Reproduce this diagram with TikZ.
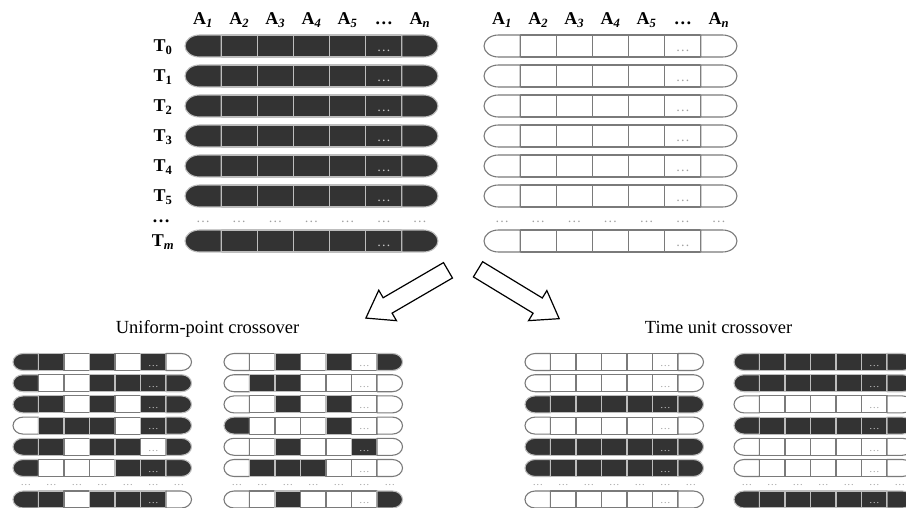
\documentclass[tikz,border=0pt]{standalone}
\usepackage{fontspec}
\setmainfont{Liberation Serif}
\usetikzlibrary{shapes.arrows}
\definecolor{genedark}{HTML}{333333}
\definecolor{lineon}{HTML}{BDBDBD}
\definecolor{lineoff}{HTML}{7A7A7A}
\definecolor{dotlight}{HTML}{C8C8C8}
\definecolor{dotgray}{HTML}{A0A0A0}
\newcommand\labfont{\fontsize{18}{20}\selectfont\bfseries}
\newcommand\titlefont{\fontsize{18.5}{21}\selectfont}
\def\allon{1,1,1,1,1,1,1}
\def\alloff{0,0,0,0,0,0,0}
\tikzset{
  cell w/.store in=\cellw, cell w=36.14,
  cell h/.store in=\cellh, cell h=22,
  dot size/.store in=\dotsz, dot size=14,
  gene/.style={line width=1.1pt, line join=round},
  celldots/.style={inner sep=0pt, font=\fontsize{\dotsz}{\dotsz}\selectfont},
  gapdots/.style={celldots, text=dotgray},
  lab/.style={inner sep=0pt, anchor=base, font=\labfont},
  title/.style={inner sep=0pt, anchor=base, font=\titlefont},
  bigarrow/.style={%
    single arrow, draw, fill=white, line width=1.2pt,
    minimum height=95pt, inner xsep=0pt, inner ysep=8.3pt,
    single arrow head extend=8.7pt, single arrow tip angle=70,
    anchor=tail,
  },
  pics/chrom/.style={code={%
    \edef\genes{#1}%
    \pgfmathsetmacro\capx{0.4*\cellw}%
    \pgfmathsetmacro\capy{0.5*\cellh}%
    \foreach \g [count=\i] in \genes {%
      \ifnum\g=1 \def\cellfill{genedark}\def\cellline{lineon}\def\dotcol{dotlight}%
      \else \def\cellfill{white}\def\cellline{lineoff}\def\dotcol{dotgray}\fi
      \pgfmathsetmacro\xa{(\i-1)*\cellw}%
      \pgfmathsetmacro\xb{\i*\cellw}%
      \ifnum\i=1
        \draw[gene, draw=\cellline, fill=\cellfill] (\xb,0) -- (\capx,0)
          arc[start angle=270, end angle=90, x radius=\capx pt, y radius=\capy pt]
          -- (\xb,\cellh) -- cycle;
      \else\ifnum\i=7
        \pgfmathsetmacro\xc{\xb-\capx}%
        \draw[gene, draw=\cellline, fill=\cellfill] (\xa,0) -- (\xc,0)
          arc[start angle=-90, end angle=90, x radius=\capx pt, y radius=\capy pt]
          -- (\xa,\cellh) -- cycle;
      \else
        \draw[gene, draw=\cellline, fill=\cellfill] (\xa,0) rectangle (\xb,\cellh);
      \fi\fi
      \ifnum\i=6
        \node[celldots, text=\dotcol] (-dots) at ({\xa+0.5*\cellw},{0.27*\cellh}) {\dots};
      \fi
    }
  }},
  pics/gaps/.style={code={%
    \foreach \i in {1,...,7}
      \node[gapdots] (-g\i) at ({(\i-0.5)*\cellw},0) {\dots};
  }},
}

\begin{document}
\begin{tikzpicture}[x=1pt,y=1pt]
\useasboundingbox (0,0) rectangle (906,507);
% attribute headers
\foreach \s in {1,...,5} {
  \node[lab] (al\s) at ({185+(\s-0.5)*36.14},482) {A\textsubscript{\itshape\s}};
  \node[lab] (ar\s) at ({484+(\s-0.5)*36.14},482) {A\textsubscript{\itshape\s}};
}
\node[lab] (al6) at ({185+5.5*36.14},482) {\dots};
\node[lab] (ar6) at ({484+5.5*36.14},482) {\dots};
\node[lab] (al7) at ({185+6.5*36.14},482) {A\textsubscript{\itshape n}};
\node[lab] (ar7) at ({484+6.5*36.14},482) {A\textsubscript{\itshape n}};
% time units
\foreach \k in {0,...,5}
  \node[lab] (t\k) at (163,{455.5-30*\k}) {T\textsubscript{\k}};
\node[lab, anchor=center] (tdots) at (161,285.3) {\dots};
\node[lab] (tm) at (163,260.5) {T\textsubscript{\itshape m}};
% parents
\foreach \k in {0,...,5} {
  \pic (L\k) at (185,{450-30*\k}) {chrom=\allon};
  \pic (R\k) at (484,{450-30*\k}) {chrom=\alloff};
}
\pic (Lg) at (185,285.3) {gaps};
\pic (Rg) at (484,285.3) {gaps};
\pic (Lm) at (185,255) {chrom=\allon};
\pic (Rm) at (484,255) {chrom=\alloff};
% arrows and titles
\node[bigarrow, rotate=210.2] (arrowL) at (448.5,237) {};
\node[bigarrow, rotate=-31.3] (arrowR) at (477.5,238) {};
\node[title] (uptitle) at (207.5,174) {Uniform-point crossover};
\node[title] (tutitle) at (718.5,174) {Time unit crossover};
% offspring
\begin{scope}[cell w=25.5, cell h=17, dot size=10.5]
  \foreach \p [count=\r from 0] in {{1,1,0,1,0,1,0},{1,0,0,1,1,1,1},{1,1,0,1,0,1,1},
      {0,1,1,1,0,1,1},{1,1,0,1,1,0,1},{1,0,0,0,1,1,1}}
    \pic (UA\r) at (13,{136.5-21.2*\r}) {chrom=\p};
  \foreach \p [count=\r from 0] in {{0,0,1,0,1,0,1},{0,1,1,0,0,0,0},{0,0,1,0,1,0,0},
      {1,0,0,0,1,0,0},{0,0,1,0,0,1,0},{0,1,1,1,0,0,0}}
    \pic (UB\r) at (224,{136.5-21.2*\r}) {chrom=\p};
  \foreach \p [count=\r from 0] in {\alloff,\alloff,\allon,\alloff,\allon,\allon}
    \pic (TA\r) at (525,{136.5-21.2*\r}) {chrom=\p};
  \foreach \p [count=\r from 0] in {\allon,\allon,\alloff,\allon,\alloff,\alloff}
    \pic (TB\r) at (734,{136.5-21.2*\r}) {chrom=\p};
  \pic (UAg) at (13,22) {gaps};
  \pic (UBg) at (224,22) {gaps};
  \pic (TAg) at (525,22) {gaps};
  \pic (TBg) at (734,22) {gaps};
  \pic (UAm) at (13,-1) {chrom={1,1,0,1,1,1,0}};
  \pic (UBm) at (224,-1) {chrom={0,0,1,0,0,0,1}};
  \pic (TAm) at (525,-1) {chrom=\alloff};
  \pic (TBm) at (734,-1) {chrom=\allon};
\end{scope}
\end{tikzpicture}
\end{document}
